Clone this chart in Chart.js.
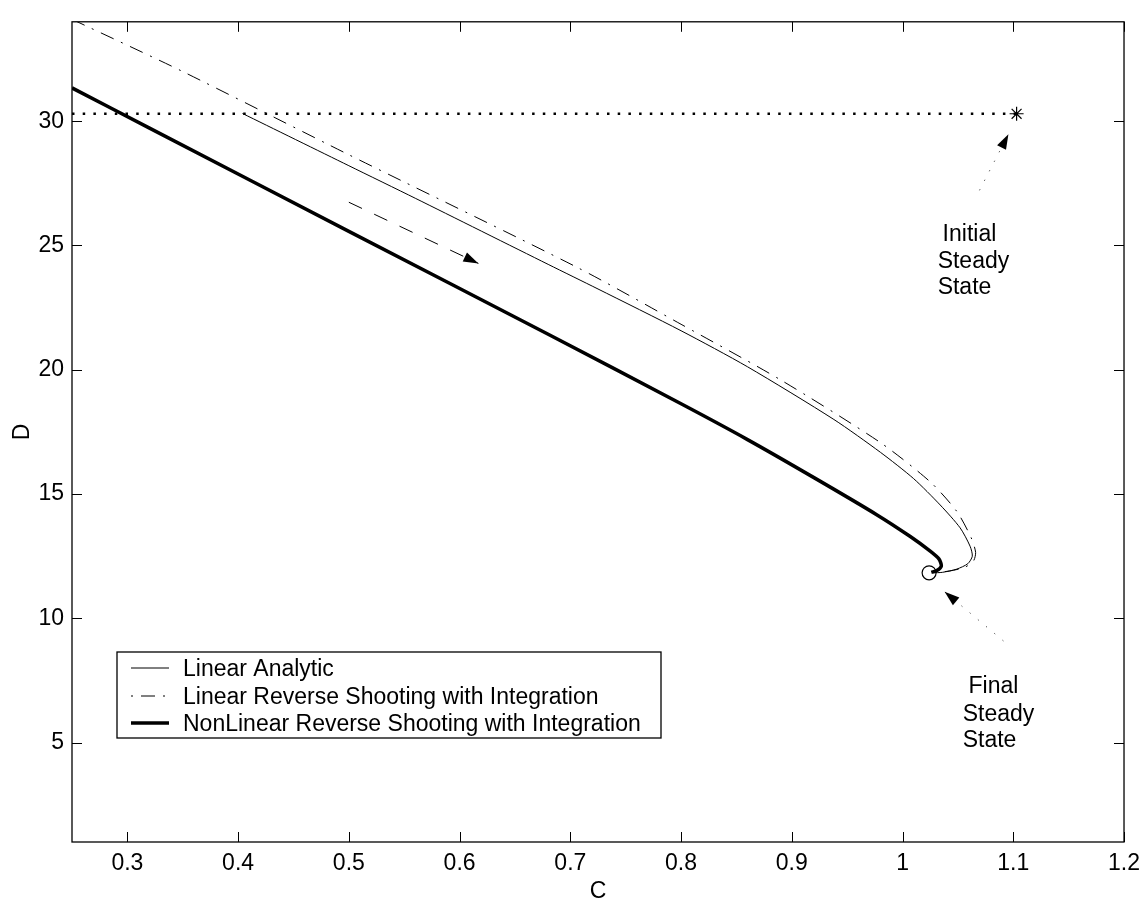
<!DOCTYPE html>
<html>
<head>
<meta charset="utf-8">
<title>C - D phase path</title>
<script src="https://cdn.jsdelivr.net/npm/chart.js"></script>
<style>
  html, body { margin: 0; padding: 0; background: #fff; }
  canvas { display: block; }
</style>
</head>
<body>
<canvas id="myChart" width="1148" height="901"></canvas>
<script>
const FONT = '"Liberation Sans", Arial, Helvetica, sans-serif'

// Linear Analytic path (C, D)
const analyticC = [0.404, 0.50, 0.56, 0.68, 0.725, 0.80, 0.86, 0.938, 0.98, 1.010, 1.034, 1.052, 1.061, 1.063, 1.059, 1.049, 1.036, 1.027]
const analyticD = [30.31, 28.21, 26.90, 24.24, 23.25, 21.57, 20.12, 18.00, 16.68, 15.62, 14.56, 13.64, 12.90, 12.50, 12.20, 11.98, 11.85, 11.83]

// Linear Reverse Shooting with Integration
const linShootC = [0.25, 0.349, 0.50, 0.707, 0.80, 0.89, 0.98, 1.025, 1.049, 1.062, 1.066, 1.064, 1.056, 1.042, 1.030]
const linShootD = [34.1, 32.02, 28.65, 24.10, 21.83, 19.59, 17.07, 15.49, 14.30, 13.24, 12.65, 12.30, 12.05, 11.90, 11.85]

// NonLinear Reverse Shooting with Integration
const nonLinC = [0.25, 0.32, 0.50, 0.68, 0.80, 0.86, 0.92, 0.977, 1.007, 1.025, 1.033, 1.035, 1.031, 1.026]
const nonLinD = [31.34, 29.72, 25.57, 21.43, 18.63, 17.19, 15.66, 14.16, 13.29, 12.70, 12.38, 12.10, 11.92, 11.85]

// steady states + old D level
const initialC = [1.103]
const initialD = [30.3]
const finalC = [1.024]
const finalD = [11.83]
const levelC = [0.25, 1.103]
const levelD = [30.3, 30.3]

// arrows, start -> tip
const flowArrowC = [0.500, 0.617]
const flowArrowD = [26.74, 24.28]
const initArrowC = [1.0695, 1.0956]
const initArrowD = [27.22, 29.48]
const finalArrowC = [1.0911, 1.038]
const finalArrowD = [9.09, 11.07]

const xTicks = [0.3, 0.4, 0.5, 0.6, 0.7, 0.8, 0.9, 1, 1.1, 1.2]
const yTicks = [5, 10, 15, 20, 25, 30]

const labels = [
    {c: 1.0362, d: 25.19, text: 'Initial'},
    {c: 1.0317, d: 24.08, text: 'Steady'},
    {c: 1.0317, d: 23.05, text: 'State'},
    {c: 1.0596, d: 6.99, text: 'Final'},
    {c: 1.0543, d: 5.88, text: 'Steady'},
    {c: 1.0543, d: 4.81, text: 'State'}
]

const pts = (xs, ys) => xs.map((x, i) => ({x: x, y: ys[i]}))

function arrowHead(ctx, chart, xs, ys) {
    const sx = chart.scales.x, sy = chart.scales.y
    const n = xs.length
    const x0 = sx.getPixelForValue(xs[n - 2]), y0 = sy.getPixelForValue(ys[n - 2])
    const x1 = sx.getPixelForValue(xs[n - 1]), y1 = sy.getPixelForValue(ys[n - 1])
    const ang = Math.atan2(y1 - y0, x1 - x0)
    const len = 15, half = 5
    const bx = x1 - len * Math.cos(ang), by = y1 - len * Math.sin(ang)
    ctx.beginPath()
    ctx.moveTo(x1, y1)
    ctx.lineTo(bx + half * Math.sin(ang), by - half * Math.cos(ang))
    ctx.lineTo(bx - half * Math.sin(ang), by + half * Math.cos(ang))
    ctx.closePath()
    ctx.fill()
}

const frame = {
    id: 'frame',
    afterDatasetsDraw(chart) {
        const ctx = chart.ctx
        const a = chart.chartArea
        const sx = chart.scales.x, sy = chart.scales.y
        ctx.save()
        ctx.strokeStyle = '#000'
        ctx.fillStyle = '#000'

        // box + inward ticks
        ctx.lineWidth = 1.3
        ctx.strokeRect(a.left, a.top, a.right - a.left, a.bottom - a.top)
        ctx.lineWidth = 1
        ctx.beginPath()
        xTicks.forEach(v => {
            const p = Math.round(sx.getPixelForValue(v)) + 0.5
            ctx.moveTo(p, a.bottom); ctx.lineTo(p, a.bottom - 10)
            ctx.moveTo(p, a.top); ctx.lineTo(p, a.top + 10)
        })
        yTicks.forEach(v => {
            const p = Math.round(sy.getPixelForValue(v)) + 0.5
            ctx.moveTo(a.left, p); ctx.lineTo(a.left + 10, p)
            ctx.moveTo(a.right, p); ctx.lineTo(a.right - 10, p)
        })
        ctx.stroke()

        // arrow heads
        arrowHead(ctx, chart, flowArrowC, flowArrowD)
        arrowHead(ctx, chart, initArrowC, initArrowD)
        arrowHead(ctx, chart, finalArrowC, finalArrowD)

        // text notes
        ctx.font = '23px ' + FONT
        ctx.textAlign = 'left'
        ctx.textBaseline = 'alphabetic'
        labels.forEach(l => {
            ctx.fillText(l.text, sx.getPixelForValue(l.c), sy.getPixelForValue(l.d))
        })

        // legend
        const lx = 117, ly = 652, lw = 544, lh = 86
        ctx.fillStyle = '#fff'
        ctx.fillRect(lx, ly, lw, lh)
        ctx.lineWidth = 1.3
        ctx.strokeRect(lx, ly, lw, lh)
        const rows = [668, 696, 723]
        ;[0, 1, 2].forEach((k, i) => {
            const ds = chart.data.datasets[k]
            ctx.save()
            ctx.lineWidth = ds.borderWidth
            ctx.setLineDash(ds.borderDash || [])
            ctx.lineDashOffset = ds.borderDash ? 22 : 0
            ctx.beginPath()
            ctx.moveTo(131, rows[i]); ctx.lineTo(169, rows[i])
            ctx.stroke()
            ctx.restore()
            ctx.fillStyle = '#000'
            ctx.fillText(ds.label, 183, rows[i] + 8.3)
        })
        ctx.restore()
    }
}

const myChart = new Chart(document.getElementById('myChart'), {
    type: 'scatter',
    data: {
        datasets: [{
            label: 'Linear Analytic',
            data: pts(analyticC, analyticD),
            showLine: true,
            borderColor: '#000',
            borderWidth: 1,
            pointRadius: 0,
            tension: 0.25
        }, {
            label: 'Linear Reverse Shooting with Integration',
            data: pts(linShootC, linShootD),
            showLine: true,
            borderColor: '#000',
            borderWidth: 1,
            borderDash: [14, 8, 2, 8],
            pointRadius: 0,
            tension: 0.25
        }, {
            label: 'NonLinear Reverse Shooting with Integration',
            data: pts(nonLinC, nonLinD),
            showLine: true,
            borderColor: '#000',
            borderWidth: 3.5,
            pointRadius: 0,
            tension: 0.25
        }, {
            label: 'level',
            data: pts(levelC, levelD),
            showLine: true,
            borderColor: '#000',
            borderWidth: 2.5,
            borderDash: [2.5, 8.2],
            pointRadius: 0
        }, {
            label: 'initial',
            data: pts(initialC, initialD),
            pointStyle: 'star',
            pointRadius: 7,
            borderColor: '#000',
            borderWidth: 1.2
        }, {
            label: 'final',
            data: pts(finalC, finalD),
            pointStyle: 'circle',
            pointRadius: 7,
            borderColor: '#000',
            backgroundColor: 'rgba(0,0,0,0)',
            borderWidth: 1.2
        }, {
            label: 'flow',
            data: pts(flowArrowC, flowArrowD),
            showLine: true,
            borderColor: '#000',
            borderWidth: 1,
            borderDash: [14.5, 13.5],
            pointRadius: 0
        }, {
            label: 'to initial',
            data: pts(initArrowC, initArrowD),
            showLine: true,
            borderColor: '#444',
            borderWidth: 1,
            borderDash: [1.2, 9.5],
            pointRadius: 0
        }, {
            label: 'to final',
            data: pts(finalArrowC, finalArrowD),
            showLine: true,
            borderColor: '#444',
            borderWidth: 1,
            borderDash: [1.2, 9.5],
            pointRadius: 0
        }]
    },
    options: {
        responsive: false,
        animation: false,
        devicePixelRatio: 1,
        layout: { padding: { left: 0, right: 20, top: 10, bottom: 0 } },
        plugins: {
            legend: { display: false },
            tooltip: { enabled: false }
        },
        scales: {
            x: {
                type: 'linear',
                min: 0.25,
                max: 1.2,
                afterBuildTicks: s => { s.ticks = xTicks.map(v => ({value: v})) },
                afterFit: s => { s.height = 59 },
                grid: { display: false, drawTicks: false },
                border: { display: false },
                ticks: {
                    color: '#000',
                    padding: 8,
                    font: { size: 23, family: FONT },
                    callback: v => String(v)
                },
                title: {
                    display: true,
                    text: 'C',
                    color: '#000',
                    padding: { top: 0, bottom: 0 },
                    font: { size: 23, family: FONT, lineHeight: 0.8 }
                }
            },
            y: {
                type: 'linear',
                min: 1,
                max: 34,
                afterBuildTicks: s => { s.ticks = yTicks.map(v => ({value: v})) },
                afterFit: s => { s.width = 72 },
                grid: { display: false, drawTicks: false },
                border: { display: false },
                ticks: {
                    color: '#000',
                    padding: 8,
                    font: { size: 23, family: FONT },
                    callback: v => String(v)
                },
                title: {
                    display: true,
                    text: 'D',
                    color: '#000',
                    padding: { top: 11, bottom: 0 },
                    font: { size: 23, family: FONT, lineHeight: 1 }
                }
            }
        }
    },
    plugins: [frame]
})
</script>
</body>
</html>
